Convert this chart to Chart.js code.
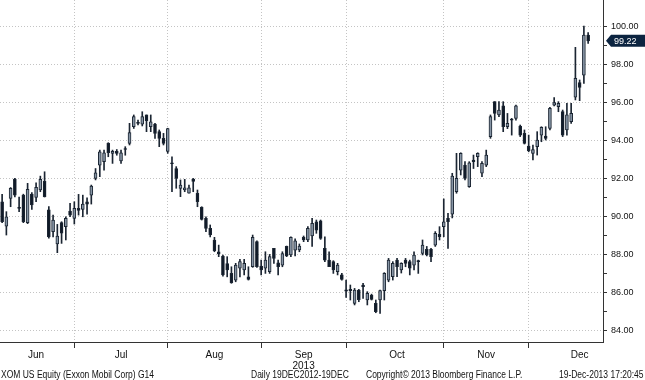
<!DOCTYPE html>
<html>
<head>
<meta charset="utf-8">
<script src="https://cdn.jsdelivr.net/npm/chart.js@4/dist/chart.umd.min.js"></script>
<style>
  body { margin: 0; background: #fff; }
  #wrap { position: relative; width: 645px; height: 380px; }
  .foot { position: absolute; top: 369px; font: 10px "Liberation Sans", sans-serif; color: #111; white-space: nowrap;
          transform: scaleX(0.85); transform-origin: left top; }
  .foot.r { transform-origin: right top; }
</style>
</head>
<body>
<div id="wrap">
  <canvas id="myChart" width="645" height="380"></canvas>
  <span class="foot" style="left:1px">XOM US Equity (Exxon Mobil Corp) G14</span>
  <span class="foot" style="left:251px">Daily 19DEC2012-19DEC</span>
  <span class="foot" style="left:366px">Copyright© 2013 Bloomberg Finance L.P.</span>
  <span class="foot r" style="right:1px">19-Dec-2013 17:20:45</span>
</div>
<script>
// daily OHLC, XOM, early June -> 19 Dec 2013
const opens = [
  90.75, 89.47, 90.93, 91.95, 90.45, 91.10, 89.65, 91.16, 90.98, 91.37,
  91.82, 90.32, 89.18, 88.53, 89.65, 89.44, 90.26, 89.88, 90.40, 90.35,
  90.75, 91.10, 91.98, 92.68, 92.86, 93.82, 93.30, 93.40, 92.90, 93.55,
  93.82, 94.70, 94.90, 94.84, 95.32, 94.70, 94.84, 94.44, 94.09, 93.40,
  92.80, 92.50, 91.45, 91.37, 91.20, 91.95, 91.20, 90.46, 89.88, 89.35,
  88.74, 88.12, 87.89, 87.50, 86.98, 86.63, 87.25, 87.16, 86.80, 87.33,
  88.65, 87.37, 87.25, 87.07, 88.30, 87.54, 87.42, 88.40, 87.95, 88.20,
  88.21, 88.88, 88.74, 88.95, 89.70, 89.75, 88.30, 87.68, 87.60, 87.07,
  86.90, 86.12, 86.14, 85.40, 86.10, 86.37, 85.58, 85.84, 85.40, 85.58,
  86.07, 86.63, 86.81, 87.68, 87.16, 87.68, 87.60, 87.42, 87.65, 88.03,
  88.25, 88.25, 88.47, 89.04, 89.44, 89.88, 90.10, 91.28, 92.42, 92.68,
  91.54, 92.95, 93.12, 92.25, 92.68, 94.18, 96.02, 95.32, 95.80, 94.70,
  95.08, 95.14, 94.74, 94.35, 93.68, 93.30, 93.65, 94.26, 94.21, 94.61,
  95.84, 95.75, 95.50, 94.53, 94.97, 96.25, 97.02, 97.42, 99.53
];
const highs = [
  91.14, 90.23, 91.50, 91.98, 91.00, 91.15, 91.72, 91.23, 91.75, 92.10,
  92.33, 90.50, 90.05, 89.56, 89.70, 89.96, 90.67, 90.75, 91.14, 91.10,
  90.96, 91.63, 92.50, 93.47, 93.47, 93.86, 93.47, 93.50, 93.47, 93.65,
  94.88, 95.32, 95.05, 95.49, 95.32, 95.32, 94.88, 94.53, 94.35, 94.62,
  93.12, 92.60, 91.90, 91.93, 91.63, 91.98, 91.37, 90.49, 89.96, 89.53,
  88.88, 88.47, 87.95, 87.86, 87.33, 87.51, 87.72, 87.72, 87.33, 89.00,
  88.70, 87.68, 88.12, 87.98, 88.30, 87.68, 88.12, 88.42, 88.91, 88.80,
  88.53, 88.95, 89.44, 89.88, 89.79, 89.79, 88.91, 88.12, 87.65, 87.51,
  86.98, 86.63, 86.37, 86.19, 86.14, 86.46, 86.02, 85.89, 85.58, 86.10,
  87.02, 87.77, 87.60, 87.77, 87.54, 87.77, 87.68, 88.12, 87.68, 88.74,
  88.40, 88.30, 89.18, 89.44, 90.90, 90.14, 92.25, 93.30, 93.33, 92.86,
  92.86, 93.21, 93.33, 92.86, 93.47, 95.32, 96.02, 96.02, 96.02, 95.40,
  95.14, 95.84, 94.79, 94.53, 94.26, 93.74, 94.44, 94.70, 94.70, 95.72,
  96.24, 96.02, 95.58, 95.93, 95.93, 98.88, 97.16, 100.00, 99.65
];
const lows = [
  89.65, 89.00, 90.49, 91.00, 90.23, 89.65, 89.60, 90.35, 90.75, 91.28,
  91.00, 88.83, 88.90, 88.07, 88.56, 88.74, 89.96, 89.58, 90.05, 89.96,
  90.10, 90.63, 91.90, 92.07, 92.42, 93.12, 92.77, 93.20, 92.77, 93.20,
  93.74, 94.61, 94.79, 94.74, 94.44, 94.44, 94.09, 93.65, 93.74, 93.30,
  91.28, 91.46, 91.02, 91.28, 91.20, 91.28, 90.49, 89.79, 89.18, 88.90,
  88.12, 87.86, 86.84, 86.80, 86.46, 86.54, 86.80, 86.90, 86.63, 87.30,
  87.30, 86.90, 86.98, 86.98, 87.51, 86.90, 87.33, 87.86, 87.86, 87.90,
  88.12, 88.65, 88.65, 88.40, 89.09, 88.77, 87.60, 87.33, 86.98, 86.90,
  86.63, 85.72, 85.58, 85.32, 85.49, 85.67, 85.32, 85.58, 84.91, 84.88,
  85.58, 86.54, 86.63, 86.81, 87.00, 87.33, 86.90, 87.16, 86.98, 87.95,
  87.90, 87.60, 88.40, 88.74, 88.91, 88.30, 89.90, 91.20, 92.16, 91.90,
  91.51, 92.50, 92.60, 92.07, 92.60, 94.09, 95.05, 95.23, 94.44, 94.60,
  94.26, 95.05, 94.18, 93.79, 93.38, 92.95, 93.21, 93.91, 94.00, 94.53,
  95.79, 95.49, 94.18, 94.26, 94.88, 96.11, 96.07, 96.98, 99.09
];
const closes = [
  89.70, 89.96, 91.46, 91.10, 90.40, 89.70, 91.40, 90.58, 91.51, 91.93,
  91.02, 88.90, 89.79, 88.95, 89.10, 89.88, 90.05, 90.40, 90.30, 90.63,
  90.63, 91.58, 92.28, 93.38, 93.33, 93.33, 93.40, 93.30, 93.33, 93.50,
  94.39, 95.23, 94.88, 95.23, 95.02, 94.96, 94.35, 94.09, 93.82, 94.60,
  92.75, 91.98, 91.63, 91.49, 91.49, 91.82, 90.75, 89.82, 89.35, 89.00,
  88.18, 88.00, 86.90, 87.16, 86.49, 87.42, 87.60, 87.51, 86.67, 88.88,
  87.33, 87.16, 87.68, 87.86, 87.77, 87.33, 88.03, 87.90, 88.88, 88.70,
  88.42, 88.74, 89.35, 89.61, 89.26, 88.82, 87.68, 87.33, 87.16, 87.42,
  86.67, 86.05, 86.07, 86.10, 85.60, 86.28, 85.93, 85.61, 84.96, 86.07,
  86.98, 87.68, 87.51, 87.33, 87.51, 87.51, 87.25, 87.95, 87.60, 88.47,
  87.95, 87.86, 89.09, 88.91, 89.70, 89.70, 92.10, 91.98, 93.30, 91.98,
  92.80, 92.86, 93.30, 92.77, 93.21, 95.23, 95.40, 95.58, 94.70, 94.88,
  95.05, 95.80, 94.26, 93.82, 93.44, 93.50, 94.00, 94.67, 94.09, 95.67,
  95.97, 95.93, 94.26, 95.32, 95.40, 97.25, 96.77, 99.53, 99.22
];

// x axis: month names and the trading-day index they sit on
const monthLabels = ['Jun', 'Jul', 'Aug', ['Sep', '2013'], 'Oct', 'Nov', 'Dec'];
const monthLabelIdx = [8, 28, 50, 71, 93, 114, 136];
const monthStartIdx = [17, 39, 61, 81, 104, 124];
const yTicks = [84, 85, 86, 87, 88, 89, 90, 91, 92, 93, 94, 95, 96, 97, 98, 99, 100];
const lastPrice = closes[closes.length - 1];

const slots = 142; // a few empty days on the right like the terminal
const labels = [];
for (let i = 0; i < slots; i++) labels.push(i);

const upColor = '#8795a5';
const downColor = '#101a28';
const edgeColor = '#1b2532';
const gridColor = '#c4c4c4';

const lastTag = {
    id: 'lastTag',
    afterDraw(chart) {
        const ctx = chart.ctx;
        const y = chart.scales.y.getPixelForValue(lastPrice);
        const x0 = chart.chartArea.right + 3;
        ctx.save();
        ctx.fillStyle = '#0c2440';
        ctx.beginPath();
        ctx.moveTo(x0, y);
        ctx.lineTo(x0 + 5, y - 6);
        ctx.lineTo(645, y - 6);
        ctx.lineTo(645, y + 6);
        ctx.lineTo(x0 + 5, y + 6);
        ctx.closePath();
        ctx.fill();
        ctx.fillStyle = '#fff';
        ctx.font = '9px "Liberation Sans"';
        ctx.textBaseline = 'middle';
        ctx.fillText(lastPrice.toFixed(2), x0 + 8, y + 0.5);
        ctx.restore();
    }
};

const ctx = document.getElementById('myChart').getContext('2d');

const myChart = new Chart(ctx, {
    type: 'bar',
    data: {
        labels: labels,
        datasets: [{
            label: 'body',
            data: opens.map((o, i) => [o, closes[i]]),
            grouped: false,
            barThickness: 3,
            minBarLength: 1,
            borderWidth: 1,
            borderSkipped: false,
            borderColor: edgeColor,
            backgroundColor: (c) => closes[c.dataIndex] >= opens[c.dataIndex] ? upColor : downColor
        }, {
            label: 'wick',
            data: lows.map((l, i) => [l, highs[i]]),
            grouped: false,
            barThickness: 1,
            borderWidth: 0,
            backgroundColor: edgeColor
        }]
    },
    options: {
        responsive: false,
        animation: false,
        layout: { padding: 0 },
        plugins: {
            legend: { display: false },
            tooltip: { enabled: false }
        },
        scales: {
            x: {
                offset: true,
                grid: {
                    offset: false,
                    color: (c) => monthStartIdx.includes(c.index) ? gridColor : 'rgba(0,0,0,0)',
                    tickColor: (c) => monthStartIdx.includes(c.index) ? '#333' : 'rgba(0,0,0,0)',
                    tickLength: 6
                },
                border: { color: '#333', width: 1, dash: [1, 2] },
                ticks: {
                    autoSkip: false,
                    maxRotation: 0,
                    padding: 1,
                    color: '#111',
                    font: { family: '"Liberation Sans"', size: 10, lineHeight: 1.15 },
                    callback: (v, i) => {
                        const k = monthLabelIdx.indexOf(i);
                        return k >= 0 ? monthLabels[k] : '';
                    }
                },
                afterFit: (s) => { s.height = 38; s.paddingLeft = 0; s.paddingRight = 0; }
            },
            y: {
                position: 'right',
                min: 83.37,
                max: 101.37,
                afterBuildTicks: (s) => { s.ticks = yTicks.map(v => ({ value: v })); },
                grid: {
                    color: (c) => (c.tick && c.tick.value % 2 === 0) ? gridColor : 'rgba(0,0,0,0)',
                    tickColor: '#333',
                    tickLength: 4
                },
                border: { color: '#333', width: 1, dash: [1, 2] },
                ticks: {
                    padding: 4,
                    color: '#111',
                    font: { family: '"Liberation Sans"', size: 9 },
                    callback: (v) => v % 2 === 0 ? v.toFixed(2) : ''
                },
                afterFit: (s) => { s.width = 42; s.paddingTop = 0; s.paddingBottom = 0; }
            }
        }
    },
    plugins: [lastTag]
});
</script>
</body>
</html>
